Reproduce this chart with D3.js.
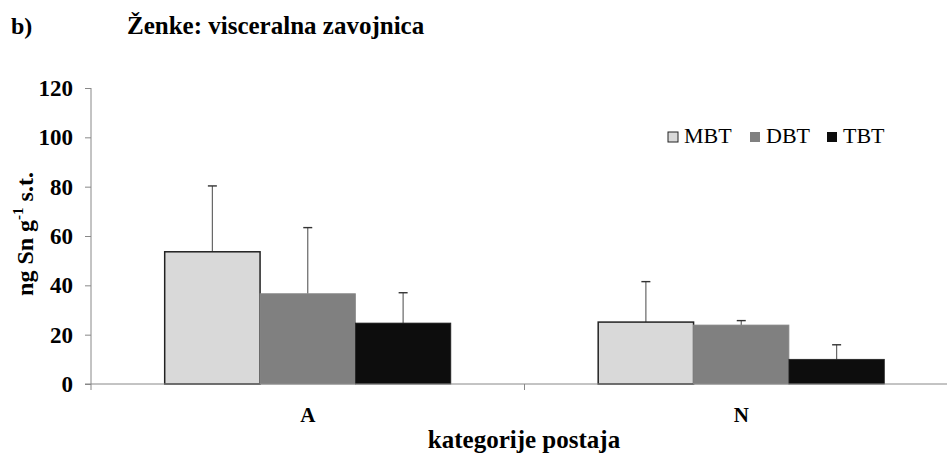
<!DOCTYPE html>
<html><head><meta charset="utf-8">
<script src="https://cdn.jsdelivr.net/npm/d3@7"></script>
<style>body{margin:0;background:#fff}svg{display:block}text{font-family:"Liberation Serif","Times New Roman",serif}</style>
</head><body>
<script>
const categories = ["A", "N"];
const seriesNames = ["MBT", "DBT", "TBT"];
const MBT = [53.6, 25.1];
const DBT = [36.6, 23.9];
const TBT = [24.7, 10.0];
const MBT_err = [26.7, 16.4];
const DBT_err = [26.8, 1.8];
const TBT_err = [12.3, 5.9];
const yTicks = [0, 20, 40, 60, 80, 100, 120];
const colors = ["#d9d9d9", "#808080", "#0d0d0d"];

const W = 947, H = 456;
const svg = d3.select("body").append("svg").attr("width", W).attr("height", H);

const x0 = d3.scaleBand().domain(categories).range([91, 958]).paddingInner(0).paddingOuter(0);
const y = d3.scaleLinear().domain([0, 120]).range([384, 88]);
const groupW = x0.bandwidth() * 0.66;
const x1 = d3.scaleBand().domain(seriesNames).range([0, groupW]);

const vals = {MBT, DBT, TBT};
const errs = {MBT: MBT_err, DBT: DBT_err, TBT: TBT_err};

// title
svg.append("text").attr("x", 11).attr("y", 34).attr("font-size", 24).attr("font-weight", "bold").text("b)");
svg.append("text").attr("x", 127).attr("y", 34).attr("font-size", 25).attr("font-weight", "bold").text("Ženke: visceralna zavojnica");

const data = [];
categories.forEach((c, i) => seriesNames.forEach((s, j) => data.push({c, s, j, v: vals[s][i], e: errs[s][i]})));

const g = svg.append("g");
data.forEach(d => {
  const cx = x0(d.c) + (x0.bandwidth() - groupW) / 2 + x1(d.s) + x1.bandwidth() / 2;
  g.append("line").attr("x1", cx).attr("x2", cx).attr("y1", y(d.v)).attr("y2", y(d.v + d.e))
    .attr("stroke", "#666").attr("stroke-width", 1.2);
  g.append("line").attr("x1", cx - 4.5).attr("x2", cx + 4.5).attr("y1", y(d.v + d.e)).attr("y2", y(d.v + d.e))
    .attr("stroke", "#333").attr("stroke-width", 1.4);
});
data.forEach(d => {
  const bx = x0(d.c) + (x0.bandwidth() - groupW) / 2 + x1(d.s);
  g.append("rect").attr("x", bx).attr("y", y(d.v)).attr("width", x1.bandwidth()).attr("height", y(0) - y(d.v))
    .attr("fill", colors[d.j])
    .attr("stroke", d.j === 0 ? "#222" : (d.j === 1 ? "#8a8a8a" : "#222"))
    .attr("stroke-width", d.j === 0 ? 1.5 : 0.8);
});

// y axis
const yAxis = d3.axisLeft(y).tickValues(yTicks).tickSize(6).tickPadding(12);
const ya = svg.append("g").attr("transform", "translate(91,0)").call(yAxis);
ya.select(".domain").attr("stroke", "#888").attr("d", "M0,88V384");
ya.selectAll(".tick line").attr("stroke", "#888");
ya.selectAll(".tick text").attr("font-size", 23).attr("font-weight", "bold").attr("fill", "#000")
  .attr("font-family", "'Liberation Serif', serif");

// x axis
const xa = svg.append("g").attr("transform", "translate(0,384)");
xa.append("line").attr("x1", 85).attr("x2", 958).attr("y1", 0).attr("y2", 0).attr("stroke", "#888").attr("stroke-width", 1);
[91, x0("N"), 958].forEach(t => xa.append("line").attr("x1", t).attr("x2", t).attr("y1", 0).attr("y2", 6).attr("stroke", "#888"));
categories.forEach(c => xa.append("text").attr("x", x0(c) + x0.bandwidth() / 2).attr("y", 38)
  .attr("text-anchor", "middle").attr("font-size", 21).attr("font-weight", "bold").text(c));

// axis titles
svg.append("text").attr("x", 524).attr("y", 448).attr("text-anchor", "middle").attr("font-size", 25).attr("font-weight", "bold").text("kategorije postaja");
const yl = svg.append("text").attr("transform", "translate(33,234) rotate(-90)").attr("text-anchor", "middle")
  .attr("font-size", 24).attr("font-weight", "bold");
yl.append("tspan").text("ng Sn g");
yl.append("tspan").attr("dy", -10).attr("font-size", 15).text("-1");
yl.append("tspan").attr("dy", 10).text(" s.t.");

// legend
const legX = [668, 750, 827];
seriesNames.forEach((s, i) => {
  svg.append("rect").attr("x", legX[i]).attr("y", 132).attr("width", 10).attr("height", 10)
    .attr("fill", colors[i]).attr("stroke", i === 0 ? "#222" : "none").attr("stroke-width", 1);
  svg.append("text").attr("x", legX[i] + 16).attr("y", 143).attr("font-size", 22).text(s);
});
</script>
</body></html>
